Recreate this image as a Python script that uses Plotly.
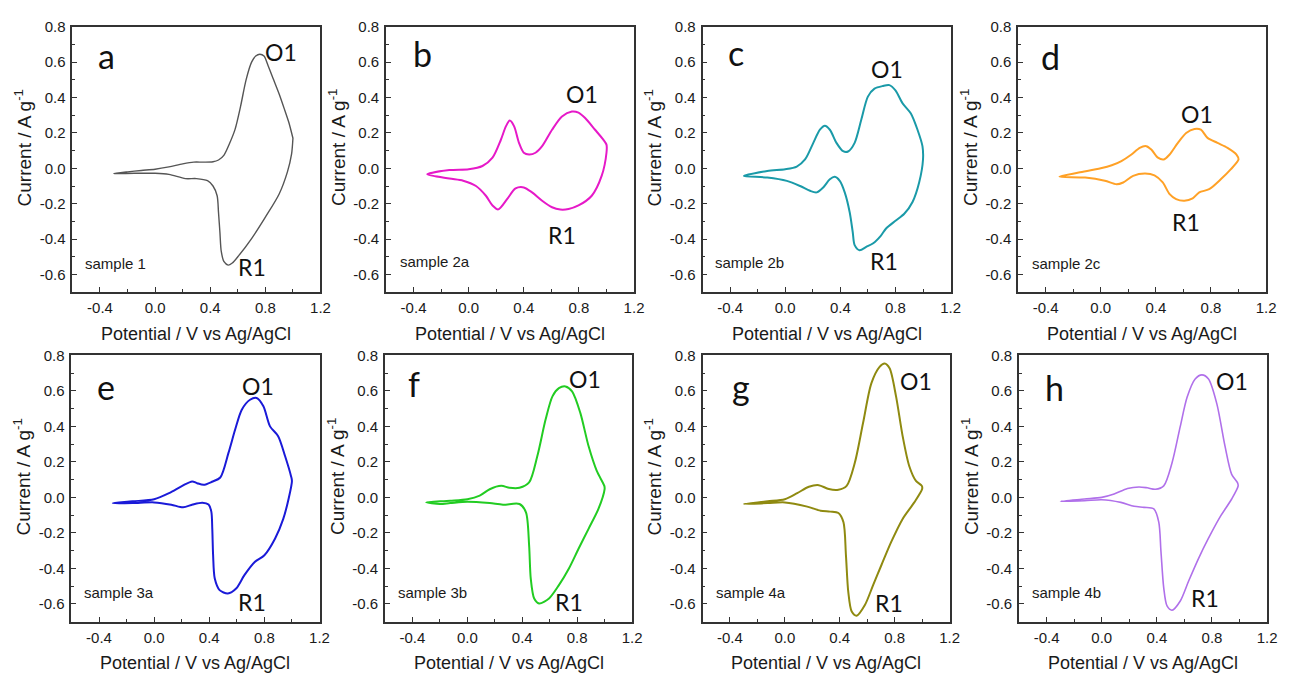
import plotly.graph_objects as go

W, H = 1289, 676

# ---------------- data (potential V, current A/g), closed CV loops ----------------
# a: sample 1
a_ox_v = [-0.3, -0.2, -0.1, 0.0, 0.1, 0.2, 0.28, 0.35, 0.42, 0.46, 0.5, 0.54, 0.58, 0.62, 0.66, 0.7, 0.73, 0.76, 0.79, 0.82, 0.86, 0.9, 0.94, 0.97, 1.0]
a_ox_i = [-0.03, -0.02, -0.012, -0.005, 0.008, 0.025, 0.035, 0.035, 0.037, 0.047, 0.075, 0.14, 0.22, 0.35, 0.5, 0.6, 0.635, 0.645, 0.635, 0.58, 0.5, 0.42, 0.33, 0.26, 0.17]
a_red_v = [1.0, 0.99, 0.96, 0.9, 0.8, 0.7, 0.6, 0.56, 0.53, 0.5, 0.48, 0.47, 0.46, 0.45, 0.42, 0.38, 0.3, 0.22, 0.1, 0.0, -0.15, -0.3]
a_red_i = [0.17, 0.08, -0.02, -0.145, -0.276, -0.397, -0.5, -0.535, -0.547, -0.528, -0.47, -0.36, -0.25, -0.155, -0.1, -0.07, -0.058, -0.058, -0.034, -0.028, -0.028, -0.03]

# b: sample 2a
b_ox_v = [-0.3, -0.14, 0.0, 0.1, 0.173, 0.233, 0.27, 0.298, 0.33, 0.365, 0.4, 0.438, 0.485, 0.533, 0.605, 0.677, 0.749, 0.797, 0.845, 0.917, 0.977, 1.0]
b_ox_i = [-0.034, -0.01, -0.005, 0.013, 0.06, 0.16, 0.237, 0.27, 0.237, 0.144, 0.088, 0.078, 0.088, 0.125, 0.218, 0.293, 0.321, 0.315, 0.284, 0.218, 0.162, 0.134]
b_red_v = [1.0, 0.965, 0.893, 0.797, 0.725, 0.665, 0.605, 0.533, 0.46, 0.4, 0.34, 0.28, 0.215, 0.173, 0.125, 0.053, -0.04, -0.14, -0.3]
b_red_i = [0.088, -0.043, -0.155, -0.21, -0.23, -0.233, -0.22, -0.183, -0.136, -0.108, -0.114, -0.173, -0.232, -0.21, -0.155, -0.1, -0.07, -0.058, -0.034]

# c: sample 2b
c_ox_v = [-0.3, -0.13, 0.0, 0.084, 0.144, 0.204, 0.252, 0.288, 0.324, 0.372, 0.42, 0.456, 0.504, 0.552, 0.6, 0.648, 0.708, 0.756, 0.8, 0.852, 0.912, 0.96, 0.996]
c_ox_i = [-0.043, -0.015, -0.005, 0.01, 0.05, 0.144, 0.218, 0.24, 0.218, 0.144, 0.097, 0.095, 0.144, 0.274, 0.405, 0.45, 0.465, 0.47, 0.44, 0.367, 0.31, 0.218, 0.125]
c_red_v = [1.0, 0.972, 0.924, 0.864, 0.803, 0.732, 0.695, 0.636, 0.588, 0.54, 0.504, 0.49, 0.468, 0.432, 0.396, 0.36, 0.324, 0.276, 0.228, 0.18, 0.108, 0.012, -0.13, -0.3]
c_red_i = [0.05, -0.08, -0.19, -0.257, -0.295, -0.34, -0.38, -0.425, -0.444, -0.463, -0.434, -0.36, -0.248, -0.136, -0.071, -0.048, -0.062, -0.108, -0.136, -0.127, -0.1, -0.071, -0.052, -0.043]

# d: sample 2c
d_ox_v = [-0.3, -0.16, 0.0, 0.08, 0.15, 0.223, 0.283, 0.331, 0.367, 0.415, 0.458, 0.5, 0.56, 0.62, 0.68, 0.727, 0.775, 0.847, 0.92, 0.985]
d_ox_i = [-0.047, -0.024, 0.0, 0.017, 0.041, 0.078, 0.116, 0.125, 0.106, 0.06, 0.05, 0.078, 0.144, 0.2, 0.222, 0.218, 0.172, 0.144, 0.116, 0.078]
d_red_v = [1.0, 0.943, 0.871, 0.787, 0.715, 0.667, 0.607, 0.547, 0.5, 0.45, 0.39, 0.32, 0.235, 0.163, 0.115, 0.03, -0.113, -0.3]
d_red_i = [0.05, -0.006, -0.062, -0.118, -0.136, -0.17, -0.183, -0.174, -0.146, -0.08, -0.04, -0.03, -0.043, -0.08, -0.09, -0.07, -0.052, -0.047]

# e: sample 3a
e_ox_v = [-0.3, -0.156, 0.0, 0.108, 0.204, 0.276, 0.312, 0.36, 0.42, 0.48, 0.54, 0.588, 0.636, 0.696, 0.744, 0.793, 0.841, 0.9, 0.95, 0.993]
e_ox_i = [-0.032, -0.022, -0.01, 0.024, 0.065, 0.09, 0.08, 0.071, 0.088, 0.112, 0.252, 0.382, 0.494, 0.55, 0.56, 0.513, 0.4, 0.345, 0.233, 0.121]
e_red_v = [1.0, 0.975, 0.937, 0.877, 0.8, 0.73, 0.655, 0.595, 0.535, 0.475, 0.44, 0.428, 0.422, 0.415, 0.395, 0.35, 0.28, 0.21, 0.125, 0.0, -0.156, -0.3]
e_red_i = [0.093, -0.01, -0.121, -0.233, -0.326, -0.364, -0.438, -0.513, -0.541, -0.522, -0.457, -0.326, -0.177, -0.08, -0.04, -0.03, -0.04, -0.056, -0.041, -0.028, -0.032, -0.032]

# f: sample 3b
f_ox_v = [-0.3, -0.125, 0.0, 0.09, 0.163, 0.247, 0.307, 0.38, 0.45, 0.51, 0.57, 0.62, 0.667, 0.715, 0.763, 0.823, 0.883, 0.943, 0.998]
f_ox_i = [-0.028, -0.019, -0.01, 0.01, 0.046, 0.065, 0.054, 0.054, 0.084, 0.233, 0.438, 0.569, 0.615, 0.625, 0.597, 0.476, 0.289, 0.149, 0.065]
f_red_v = [1.0, 0.955, 0.883, 0.81, 0.74, 0.667, 0.595, 0.523, 0.487, 0.462, 0.45, 0.427, 0.38, 0.26, 0.163, 0.0, -0.125, -0.2, -0.3]
f_red_i = [0.047, -0.065, -0.177, -0.289, -0.4, -0.494, -0.569, -0.597, -0.569, -0.457, -0.27, -0.084, -0.037, -0.041, -0.032, -0.024, -0.032, -0.037, -0.028]

# g: sample 4a
g_ox_v = [-0.3, -0.125, 0.0, 0.09, 0.175, 0.247, 0.32, 0.39, 0.45, 0.51, 0.57, 0.63, 0.69, 0.727, 0.763, 0.81, 0.858, 0.906, 0.955, 0.998]
g_ox_i = [-0.037, -0.022, -0.01, 0.024, 0.06, 0.069, 0.047, 0.043, 0.065, 0.196, 0.42, 0.642, 0.735, 0.754, 0.727, 0.569, 0.345, 0.177, 0.093, 0.065]
g_red_v = [1.0, 0.943, 0.858, 0.774, 0.703, 0.643, 0.583, 0.523, 0.487, 0.462, 0.445, 0.427, 0.39, 0.33, 0.26, 0.163, 0.0, -0.125, -0.3]
g_red_i = [0.047, -0.028, -0.121, -0.252, -0.382, -0.494, -0.606, -0.666, -0.643, -0.532, -0.326, -0.14, -0.088, -0.08, -0.075, -0.052, -0.028, -0.032, -0.037]

# h: sample 4b
h_ox_v = [-0.3, -0.125, 0.0, 0.09, 0.187, 0.27, 0.33, 0.39, 0.45, 0.51, 0.57, 0.62, 0.678, 0.727, 0.775, 0.835, 0.895, 0.943, 0.985]
h_ox_i = [-0.022, -0.009, 0.0, 0.019, 0.05, 0.059, 0.054, 0.046, 0.065, 0.194, 0.4, 0.565, 0.667, 0.69, 0.667, 0.528, 0.287, 0.13, 0.083]
h_red_v = [0.99, 0.943, 0.858, 0.774, 0.703, 0.63, 0.57, 0.51, 0.474, 0.45, 0.43, 0.414, 0.378, 0.307, 0.235, 0.139, 0.0, -0.125, -0.3]
h_red_i = [0.065, -0.009, -0.111, -0.231, -0.343, -0.472, -0.583, -0.635, -0.611, -0.509, -0.306, -0.139, -0.065, -0.056, -0.05, -0.028, -0.013, -0.019, -0.022]

panel_letters = ["a", "b", "c", "d", "e", "f", "g", "h"]
sample_names = ["sample 1", "sample 2a", "sample 2b", "sample 2c",
                "sample 3a", "sample 3b", "sample 4a", "sample 4b"]
colors = ["#555555", "#e619c8", "#1a9aa8", "#ffa126",
          "#1a1ad8", "#22cc22", "#8f8a10", "#b070ea"]
line_widths = [1.4, 2, 2, 2, 2, 2, 2, 1.6]

curves = [
    (a_ox_v, a_ox_i, a_red_v, a_red_i),
    (b_ox_v, b_ox_i, b_red_v, b_red_i),
    (c_ox_v, c_ox_i, c_red_v, c_red_i),
    (d_ox_v, d_ox_i, d_red_v, d_red_i),
    (e_ox_v, e_ox_i, e_red_v, e_red_i),
    (f_ox_v, f_ox_i, f_red_v, f_red_i),
    (g_ox_v, g_ox_i, g_red_v, g_red_i),
    (h_ox_v, h_ox_i, h_red_v, h_red_i),
]

# label anchor positions (data coords)
letter_pos = [(-0.355, 0.64), (-0.336, 0.647), (-0.36, 0.657), (-0.365, 0.63),
              (-0.348, 0.624), (-0.389, 0.643), (-0.317, 0.624), (-0.341, 0.62)]
o1_pos = [(0.917, 0.66), (0.82, 0.42), (0.737, 0.563), (0.702, 0.308),
          (0.756, 0.628), (0.86, 0.665), (0.956, 0.658), (0.944, 0.657)]
r1_pos = [(0.70, -0.556), (0.677, -0.379), (0.72, -0.524), (0.617, -0.304),
          (0.708, -0.587), (0.744, -0.587), (0.759, -0.596), (0.752, -0.569)]
sample_pos = [(-0.523, -0.537), (-0.511, -0.528), (-0.523, -0.534), (-0.515, -0.537),
              (-0.521, -0.537), (-0.521, -0.537), (-0.516, -0.537), (-0.521, -0.537)]

X_TICKS = [-0.4, 0.0, 0.4, 0.8, 1.2]
X_TICK_TEXT = ["-0.4", "0.0", "0.4", "0.8", "1.2"]
Y_TICKS = [-0.6, -0.4, -0.2, 0.0, 0.2, 0.4, 0.6, 0.8]
Y_TICK_TEXT = ["-0.6", "-0.4", "-0.2", "0.0", "0.2", "0.4", "0.6", "0.8"]
X_TITLE = "Potential / V vs Ag/AgCl"
Y_TITLE = "Current / A g<sup>-1</sup>"

# ---------------- layout geometry (pixels) ----------------
col_px = [[(73, 323), (389, 639), (708, 958), (1026, 1276)],
          [(72, 322), (388, 637), (708, 957), (1027, 1277)]]
row_px = [(18, 287), (351, 621)]

fig = go.Figure()
annotations = []
FONT = "Liberation Sans, Arial, sans-serif"
LFONT = "Lato, Open Sans, sans-serif"
INK = "#1a1a1a"

for k in range(8):
    r, c = divmod(k, 4)
    n = k + 1
    xa = "x" if n == 1 else f"x{n}"
    ya = "y" if n == 1 else f"y{n}"
    x0, x1 = col_px[r][c]
    top, bot = row_px[r]
    ox_v, ox_i, red_v, red_i = curves[k]
    fig.add_trace(go.Scatter(
        x=list(ox_v) + list(red_v), y=list(ox_i) + list(red_i),
        mode="lines", line=dict(color=colors[k], width=line_widths[k], shape="spline", smoothing=0.8),
        xaxis=xa, yaxis=ya, showlegend=False, hoverinfo="skip"))

    axkw = dict(showgrid=False, zeroline=False, showline=True, linecolor="#333333", linewidth=1.6,
                mirror=True, ticks="inside", ticklen=5, tickwidth=1.3, tickcolor="#333333",
                tickfont=dict(family=FONT, size=15, color=INK), fixedrange=True)
    fig.layout[f"xaxis{'' if n == 1 else n}"] = dict(
        domain=[x0 / W, x1 / W], range=[-0.6, 1.2], anchor=ya,
        tickvals=X_TICKS, ticktext=X_TICK_TEXT, ticklabelstandoff=1,
        minor=dict(ticks="inside", ticklen=3, tickwidth=1.2, tickcolor="#333333", dtick=0.2, tick0=0, showgrid=False),
        **axkw)
    fig.layout[f"yaxis{'' if n == 1 else n}"] = dict(
        domain=[1 - bot / H, 1 - top / H], range=[-0.7, 0.8], anchor=xa,
        tickvals=Y_TICKS, ticktext=Y_TICK_TEXT, ticklabelstandoff=2,
        minor=dict(ticks="inside", ticklen=3, tickwidth=1.2, tickcolor="#333333", dtick=0.1, tick0=0, showgrid=False),
        **axkw)

    # axis titles
    annotations.append(dict(text=X_TITLE, xref="paper", yref="paper",
                            x=(x0 + x1) / 2 / W, y=1 - (bot + 42) / H, showarrow=False,
                            xanchor="center", yanchor="middle",
                            font=dict(family=FONT, size=18, color=INK)))
    annotations.append(dict(text=Y_TITLE, xref="paper", yref="paper",
                            x=(x0 - 50) / W, y=1 - ((top + bot) / 2 - 12) / H, showarrow=False,
                            xanchor="center", yanchor="middle", textangle=-90,
                            font=dict(family=FONT, size=19, color=INK)))
    # in-panel labels
    lx, ly = letter_pos[k]
    annotations.append(dict(text=panel_letters[k], xref=xa, yref=ya, x=lx, y=ly, showarrow=False,
                            xanchor="center", yanchor="middle",
                            font=dict(family=LFONT, size=34, color="#111111")))
    ox, oy = o1_pos[k]
    annotations.append(dict(text="O1", xref=xa, yref=ya, x=ox, y=oy, showarrow=False,
                            xanchor="center", yanchor="middle",
                            font=dict(family=LFONT, size=23, color="#111111")))
    rx, ry = r1_pos[k]
    annotations.append(dict(text="R1", xref=xa, yref=ya, x=rx, y=ry, showarrow=False,
                            xanchor="center", yanchor="middle",
                            font=dict(family=LFONT, size=23, color="#111111")))
    sx, sy = sample_pos[k]
    annotations.append(dict(text=sample_names[k], xref=xa, yref=ya, x=sx, y=sy, showarrow=False,
                            xanchor="left", yanchor="middle",
                            font=dict(family=FONT, size=15, color=INK)))

fig.update_layout(width=W, height=H, margin=dict(l=0, r=0, t=0, b=0),
                  paper_bgcolor="white", plot_bgcolor="white",
                  annotations=annotations, showlegend=False)

fig.write_html("out.html", config={"displayModeBar": False})
